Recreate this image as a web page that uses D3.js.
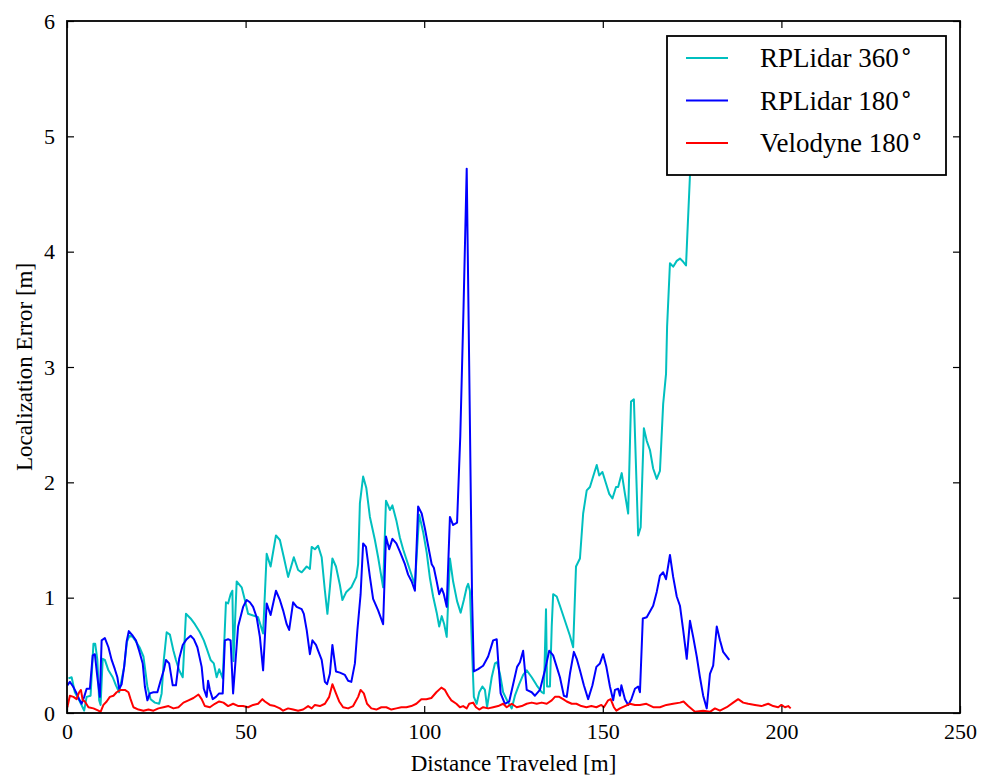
<!DOCTYPE html>
<html>
<head>
<meta charset="utf-8">
<script src="https://cdn.jsdelivr.net/npm/d3@7"></script>
<style>
  html, body { margin: 0; padding: 0; background: #fff; }
  svg { display: block; }
  text { font-family: "Liberation Serif", "DejaVu Serif", serif; fill: #000; }
</style>
</head>
<body>
<svg id="chart" width="984" height="780"></svg>
<script>
// Localization error vs. distance traveled, one [distance m, error m] pair per sample.
const rplidar360 = [
  [0.4,0.30],[1.3,0.31],[2.2,0.18],[3.6,0.10],[4.8,0.02],[5.5,0.14],[6.6,0.15],[7.4,0.60],[7.9,0.60],[8.5,0.46],
  [9.0,0.11],[9.4,0.07],[10.0,0.47],[10.6,0.46],[11.6,0.37],[12.8,0.31],[13.7,0.24],[14.6,0.18],[16.0,0.40],[16.8,0.62],
  [17.5,0.67],[18.4,0.66],[19.3,0.62],[20.3,0.57],[21.4,0.49],[22.5,0.23],[23.4,0.12],[24.6,0.09],[25.8,0.08],[26.5,0.17],
  [27.1,0.46],[27.9,0.70],[28.8,0.68],[29.8,0.54],[30.5,0.46],[31.4,0.37],[32.4,0.31],[33.3,0.86],[34.6,0.82],[35.8,0.77],
  [37.2,0.70],[38.3,0.63],[39.1,0.56],[40.2,0.46],[41.1,0.43],[41.9,0.31],[42.6,0.38],[43.6,0.30],[44.5,0.96],[45.1,0.95],
  [45.8,1.03],[46.3,1.06],[46.6,0.45],[47.5,1.14],[48.9,1.09],[49.8,0.98],[50.7,0.86],[51.7,0.85],[53.5,0.83],[54.9,0.69],
  [55.9,1.38],[57.0,1.27],[58.5,1.54],[59.6,1.50],[60.7,1.35],[61.9,1.18],[63.5,1.35],[64.7,1.24],[65.7,1.22],[67.1,1.27],
  [68.0,1.25],[68.5,1.44],[69.4,1.42],[70.3,1.45],[71.3,1.35],[72.2,1.06],[72.9,0.86],[73.6,1.09],[74.3,1.34],[75.3,1.27],
  [76.4,1.11],[77.1,0.98],[78.2,1.05],[79.6,1.09],[81.0,1.18],[81.5,1.29],[82.0,1.82],[82.9,2.05],[83.8,1.95],[84.8,1.70],
  [86.2,1.50],[87.1,1.35],[88.5,1.09],[89.3,1.84],[89.9,1.80],[90.4,1.76],[91.1,1.80],[92.2,1.67],[93.2,1.52],[94.1,1.42],
  [96.0,1.24],[97.4,1.11],[98.6,1.72],[99.7,1.57],[100.7,1.39],[101.6,1.17],[102.5,1.01],[103.5,0.87],[104.2,0.75],[104.9,0.84],
  [105.6,0.77],[106.3,0.66],[107.2,1.34],[108.1,1.14],[109.2,0.97],[110.2,0.87],[111.1,0.98],[111.9,1.09],[112.3,1.12],[112.8,1.06],
  [113.5,0.46],[113.9,0.14],[114.7,0.08],[115.4,0.18],[116.3,0.23],[117.0,0.20],[117.6,0.05],[118.9,0.31],[119.8,0.43],[120.4,0.44],
  [121.2,0.34],[122.1,0.18],[123.2,0.11],[124.5,0.04],[125.4,0.15],[126.6,0.25],[127.7,0.33],[128.7,0.37],[130.1,0.31],[131.5,0.24],
  [132.9,0.18],[133.5,0.17],[134.1,0.90],[134.4,0.23],[135.2,0.23],[135.7,0.75],[136.1,1.03],[137.1,1.01],[138.0,0.93],[139.4,0.80],
  [140.8,0.67],[141.7,0.57],[142.5,1.27],[143.6,1.34],[144.5,1.73],[145.5,1.93],[146.4,1.96],[147.3,2.05],[148.3,2.15],[149.0,2.06],
  [149.9,2.09],[150.9,1.99],[151.8,1.90],[152.7,1.86],[153.7,1.96],[154.3,1.96],[155.3,2.08],[156.2,1.90],[157.1,1.73],[157.9,2.70],
  [158.7,2.72],[159.9,1.54],[160.6,1.61],[161.5,2.47],[162.3,2.36],[163.2,2.28],[164.1,2.12],[165.1,2.03],[166.0,2.10],[166.9,2.68],
  [167.7,2.94],[168.0,3.35],[168.8,3.90],[169.7,3.87],[170.7,3.92],[171.6,3.94],[172.3,3.92],[173.3,3.88],[173.6,4.10],[174.4,4.66],
  [175.2,5.30]
];

const rplidar180 = [
  [0.1,0.24],[0.8,0.27],[1.7,0.23],[2.7,0.17],[3.4,0.12],[4.1,0.08],[4.8,0.14],[5.5,0.21],[6.4,0.21],[7.2,0.50],
  [7.8,0.51],[8.5,0.31],[9.2,0.14],[9.7,0.63],[10.6,0.65],[11.6,0.57],[12.5,0.46],[13.4,0.38],[14.1,0.31],[14.6,0.21],
  [15.3,0.25],[16.0,0.40],[16.7,0.62],[17.3,0.71],[18.4,0.67],[19.3,0.63],[20.2,0.54],[21.2,0.43],[21.8,0.23],[22.5,0.11],
  [23.2,0.17],[24.2,0.18],[25.3,0.18],[26.2,0.28],[27.1,0.37],[27.7,0.46],[28.6,0.43],[29.6,0.24],[30.5,0.24],[31.4,0.47],
  [32.4,0.59],[33.5,0.64],[34.6,0.67],[35.5,0.64],[36.5,0.57],[37.7,0.40],[38.3,0.21],[39.1,0.14],[39.5,0.28],[40.0,0.20],
  [40.8,0.12],[41.7,0.14],[42.6,0.17],[43.6,0.17],[44.2,0.63],[45.1,0.64],[45.8,0.63],[46.5,0.17],[47.9,0.75],[49.3,0.92],
  [50.3,0.98],[51.2,0.96],[52.1,0.92],[53.1,0.83],[54.0,0.66],[54.9,0.37],[55.9,0.95],[57.0,0.85],[58.5,1.06],[59.6,0.98],
  [60.5,0.89],[61.5,0.77],[62.2,0.72],[63.3,0.96],[64.3,0.92],[65.7,0.90],[66.3,0.86],[67.1,0.72],[68.0,0.51],[68.7,0.63],
  [69.7,0.59],[70.3,0.54],[71.3,0.46],[72.2,0.27],[72.8,0.25],[73.6,0.34],[74.3,0.59],[75.3,0.36],[76.4,0.35],[77.8,0.33],
  [78.7,0.28],[79.6,0.27],[80.6,0.43],[81.3,0.72],[82.2,1.03],[82.9,1.47],[83.7,1.44],[84.8,1.18],[85.7,0.99],[87.1,0.89],
  [88.5,0.77],[89.3,1.53],[90.2,1.42],[91.1,1.51],[92.2,1.47],[93.2,1.40],[94.6,1.29],[95.5,1.20],[96.5,1.14],[97.4,1.06],
  [98.3,1.79],[99.3,1.73],[100.2,1.60],[101.1,1.45],[102.1,1.29],[102.7,1.26],[103.5,1.14],[104.2,1.03],[104.9,1.08],[105.5,1.03],
  [106.3,0.92],[107.2,1.70],[108.1,1.63],[109.2,1.65],[110.1,2.40],[111.0,3.50],[111.9,4.72],[112.6,3.00],[113.4,1.00],[113.9,0.36],
  [115.1,0.38],[116.5,0.41],[117.9,0.49],[119.3,0.63],[120.3,0.64],[120.7,0.46],[121.4,0.17],[122.6,0.08],[123.8,0.10],[124.9,0.25],
  [126.0,0.40],[126.8,0.44],[127.7,0.54],[128.7,0.20],[130.1,0.18],[131.0,0.15],[132.4,0.20],[133.8,0.37],[135.0,0.54],[136.1,0.50],
  [137.1,0.40],[138.0,0.31],[139.1,0.15],[139.9,0.14],[140.8,0.34],[141.9,0.53],[142.7,0.47],[143.6,0.37],[144.7,0.24],[145.9,0.12],
  [147.1,0.24],[148.2,0.40],[149.2,0.43],[150.1,0.51],[151.0,0.40],[152.0,0.23],[152.9,0.11],[153.4,0.20],[154.3,0.21],[154.8,0.15],
  [155.2,0.24],[156.2,0.12],[157.1,0.07],[158.0,0.12],[159.0,0.21],[159.9,0.23],[160.4,0.18],[161.2,0.82],[162.3,0.83],[163.2,0.88],
  [164.1,0.93],[165.1,1.05],[166.0,1.19],[166.9,1.22],[167.7,1.16],[168.8,1.37],[169.7,1.18],[170.7,1.01],[171.6,0.93],[172.5,0.72],
  [173.5,0.47],[174.4,0.80],[175.3,0.66],[176.3,0.49],[177.2,0.31],[178.1,0.15],[179.1,0.04],[180.0,0.34],[180.9,0.41],[181.9,0.75],
  [182.8,0.63],[183.7,0.53],[185.4,0.46]
];

const velodyne180 = [
  [0.1,0.05],[0.8,0.15],[1.8,0.14],[2.7,0.12],[3.4,0.18],[3.9,0.20],[4.4,0.11],[5.0,0.10],[6.0,0.05],[7.4,0.04],
  [8.8,0.02],[9.4,0.01],[10.2,0.07],[11.1,0.10],[12.0,0.14],[13.0,0.15],[13.9,0.18],[15.0,0.20],[16.2,0.20],[17.2,0.18],
  [17.8,0.12],[18.6,0.05],[20.0,0.03],[21.4,0.02],[22.8,0.03],[24.2,0.02],[25.6,0.04],[27.0,0.05],[28.4,0.06],[29.8,0.04],
  [31.2,0.05],[32.6,0.09],[34.0,0.11],[35.4,0.13],[36.8,0.16],[37.7,0.12],[38.6,0.06],[40.0,0.05],[41.4,0.08],[42.6,0.10],
  [43.8,0.09],[45.1,0.06],[46.5,0.08],[48.0,0.06],[49.3,0.06],[50.7,0.05],[52.1,0.07],[53.5,0.08],[54.7,0.12],[55.4,0.10],
  [56.8,0.07],[58.2,0.06],[59.6,0.04],[60.5,0.02],[61.9,0.04],[63.3,0.03],[64.7,0.02],[66.1,0.03],[67.5,0.06],[68.5,0.04],
  [69.4,0.07],[70.8,0.06],[72.2,0.08],[73.4,0.14],[74.3,0.25],[75.3,0.17],[76.2,0.10],[77.3,0.05],[78.7,0.04],[80.1,0.06],
  [81.5,0.14],[82.2,0.20],[83.1,0.17],[84.0,0.08],[85.2,0.04],[86.6,0.03],[88.0,0.05],[89.4,0.05],[90.8,0.03],[92.2,0.04],
  [93.6,0.05],[95.0,0.05],[96.4,0.06],[97.8,0.08],[99.2,0.12],[100.6,0.12],[102.0,0.13],[103.4,0.18],[104.8,0.22],[105.8,0.20],
  [106.7,0.15],[107.6,0.11],[109.0,0.08],[110.0,0.05],[110.9,0.06],[111.9,0.04],[112.6,0.08],[113.7,0.09],[114.5,0.05],[115.4,0.03],
  [116.5,0.05],[117.9,0.04],[119.3,0.05],[120.7,0.06],[122.1,0.08],[123.1,0.05],[124.5,0.08],[125.9,0.05],[127.3,0.06],[128.7,0.08],
  [130.1,0.09],[131.5,0.08],[132.9,0.09],[134.3,0.08],[135.7,0.11],[136.6,0.14],[137.8,0.14],[138.9,0.12],[139.9,0.10],[141.3,0.08],
  [142.6,0.08],[144.0,0.06],[145.4,0.05],[146.8,0.06],[148.2,0.05],[149.6,0.07],[150.3,0.05],[151.5,0.11],[152.2,0.12],[153.1,0.05],
  [153.8,0.02],[154.8,0.04],[156.2,0.06],[157.6,0.08],[159.0,0.07],[160.4,0.07],[162.2,0.08],[164.1,0.05],[166.0,0.05],[167.8,0.07],
  [169.7,0.08],[171.6,0.09],[172.6,0.10],[173.9,0.06],[175.8,0.01],[178.1,0.02],[180.0,0.01],[181.4,0.04],[182.8,0.02],[184.7,0.05],
  [186.5,0.09],[187.9,0.12],[189.3,0.09],[190.7,0.08],[192.6,0.07],[194.4,0.06],[196.3,0.08],[197.7,0.06],[199.1,0.05],[200.0,0.07],
  [201.0,0.05],[201.9,0.06],[202.6,0.04]
];

const seriesNames = ["RPLidar 360", "RPLidar 180", "Velodyne 180"];
const seriesColors = ["#00bfbf", "#0000ff", "#ff0000"];
const xTicks = [0, 50, 100, 150, 200, 250];
const yTicks = [0, 1, 2, 3, 4, 5, 6];
const xLabel = "Distance Traveled [m]";
const yLabel = "Localization Error [m]";

const svg = d3.select("#chart");
const margin = { left: 67, right: 24, top: 21, bottom: 67 };
const W = 984, H = 780;
const x = d3.scaleLinear().domain([0, 250]).range([margin.left, W - margin.right]);
const y = d3.scaleLinear().domain([0, 6]).range([H - margin.bottom, margin.top]);

svg.append("defs").append("clipPath").attr("id", "plotClip")
  .append("rect")
  .attr("x", x(0)).attr("y", y(6))
  .attr("width", x(250) - x(0)).attr("height", y(0) - y(6));

// Data lines
const line = d3.line().x(d => x(d[0])).y(d => y(d[1]));
const allSeries = [rplidar360, rplidar180, velodyne180];
const plot = svg.append("g").attr("clip-path", "url(#plotClip)");
allSeries.forEach((s, i) => {
  plot.append("path")
    .datum(s)
    .attr("d", line)
    .attr("fill", "none")
    .attr("stroke", seriesColors[i])
    .attr("stroke-width", 2)
    .attr("stroke-linejoin", "round")
    .attr("stroke-linecap", "butt");
});

// Axes with inward ticks on all four sides
const tickLen = 7;
const fontSize = 22;
const gx = svg.append("g").attr("transform", `translate(0,${y(0)})`)
  .call(d3.axisBottom(x).tickValues(xTicks).tickFormat(d3.format("d")).tickSizeInner(-tickLen).tickSizeOuter(0).tickPadding(10));
const gxTop = svg.append("g").attr("transform", `translate(0,${y(6)})`)
  .call(d3.axisTop(x).tickValues(xTicks).tickFormat("").tickSizeInner(-tickLen).tickSizeOuter(0));
const gy = svg.append("g").attr("transform", `translate(${x(0)},0)`)
  .call(d3.axisLeft(y).tickValues(yTicks).tickFormat(d3.format("d")).tickSizeInner(-tickLen).tickSizeOuter(0).tickPadding(12));
const gyRight = svg.append("g").attr("transform", `translate(${x(250)},0)`)
  .call(d3.axisRight(y).tickValues(yTicks).tickFormat("").tickSizeInner(-tickLen).tickSizeOuter(0));

[gx, gxTop, gy, gyRight].forEach(g => {
  g.select(".domain").remove();
  g.selectAll(".tick line").attr("stroke", "#000").attr("stroke-width", 1.2);
  g.selectAll(".tick text")
    .attr("font-family", "Liberation Serif, serif")
    .attr("font-size", fontSize)
    .attr("fill", "#000");
});

// Frame
svg.append("rect")
  .attr("x", x(0)).attr("y", y(6))
  .attr("width", x(250) - x(0)).attr("height", y(0) - y(6))
  .attr("fill", "none").attr("stroke", "#000").attr("stroke-width", 1.8);

// Axis labels
svg.append("text")
  .attr("x", (x(0) + x(250)) / 2).attr("y", 771)
  .attr("text-anchor", "middle")
  .attr("font-size", 23)
  .text(xLabel);
svg.append("text")
  .attr("transform", `translate(32,${(y(0) + y(6)) / 2}) rotate(-90)`)
  .attr("text-anchor", "middle")
  .attr("font-size", 23)
  .text(yLabel);

// Legend: name followed by a raised degree circle
const legend = svg.append("g");
legend.append("rect")
  .attr("x", 667).attr("y", 36).attr("width", 279).attr("height", 139)
  .attr("fill", "#fff").attr("stroke", "#000").attr("stroke-width", 1.8);
seriesNames.forEach((name, i) => {
  const cy = 58 + i * 42.5;
  legend.append("line")
    .attr("x1", 686).attr("x2", 728).attr("y1", cy).attr("y2", cy)
    .attr("stroke", seriesColors[i]).attr("stroke-width", 2);
  const t = legend.append("text")
    .attr("x", 760).attr("y", cy + 9)
    .attr("font-size", 27);
  t.append("tspan").text(name);
  t.append("tspan")
    .attr("dx", 2).attr("dy", -2)
    .attr("font-family", "DejaVu Serif, serif")
    .attr("font-size", 22)
    .text("°");
});
</script>
</body>
</html>
